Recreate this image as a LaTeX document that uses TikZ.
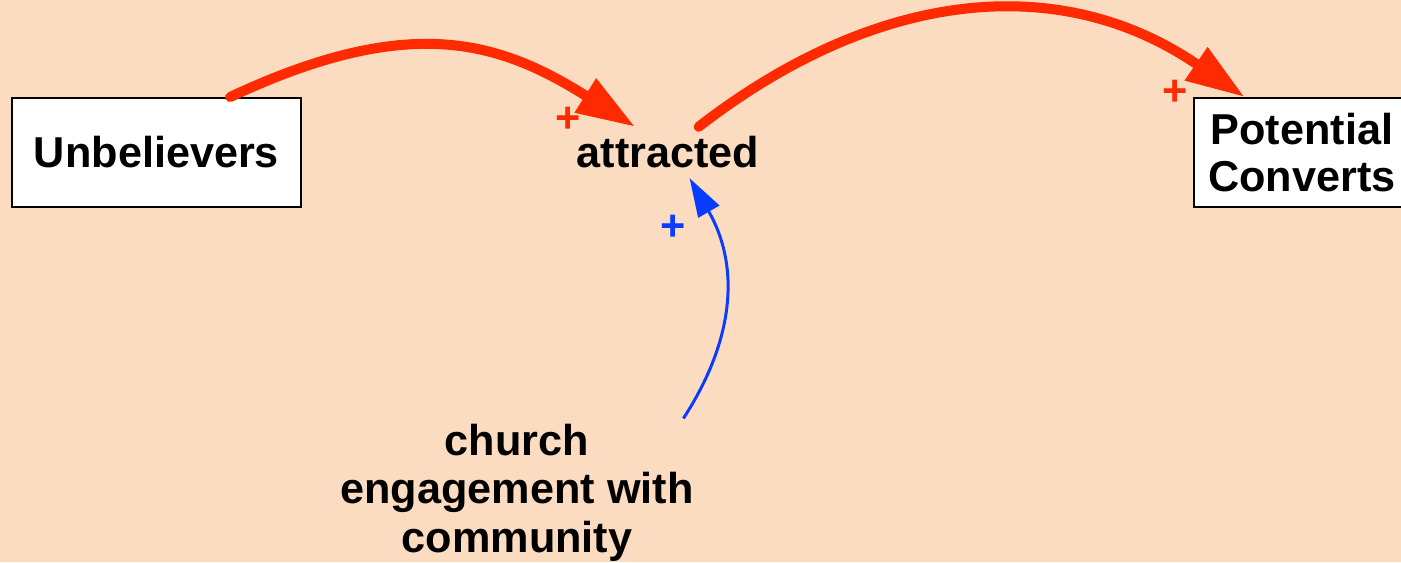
\documentclass[tikz,border=0pt]{standalone}
\usepackage{fontspec}
\setmainfont{Liberation Sans}
\usetikzlibrary{arrows.meta}
\definecolor{paper}{HTML}{FBDCC0}
\definecolor{linkred}{HTML}{FF2A00}
\definecolor{linkblue}{HTML}{0A3CFF}
\begin{document}
\begin{tikzpicture}[x=0.02cm,y=-0.02cm,
		every node/.style={font=\fontsize{24.6}{27.5}\selectfont\bfseries},
		stock/.style={draw=black,line width=1.1pt,fill=white,minimum height=2.18cm},
		redlink/.style={draw=linkred,line width=5.7pt,line cap=round,-{Triangle[length=33.5pt,width=21.5pt]}},
		bluelink/.style={draw=linkblue,line width=1.7pt,-{Triangle[length=22pt,width=13.6pt]}},
		sign/.style={inner sep=0pt}]
			\fill[paper] (0,0) rectangle (1401,562);
			\clip (0,0) rectangle (1401,562);
			\node[stock,minimum width=5.78cm] (unb) at (156.5,152.5) {Unbelievers};
			\node[stock,minimum width=4.32cm,align=center] (pot) at (1302,152.5) {Potential\\[-1pt]Converts};
			\node[inner sep=5.4pt] (attr) at (668,152.5) {attracted};
			\node[inner sep=3pt,align=center] (church) at (517,492.5) {church\\engagement with\\community};
			\draw[redlink] (unb.37) .. controls +(181,-85) and +(-135,-85) .. (attr.142);
			\draw[redlink] (attr.40) .. controls +(177,-137) and +(-185,-127) .. (pot.136);
			\draw[bluelink] (church.24) .. controls +(53.5,-82.4) and +(49,85) .. (attr.-50);
			\node[sign,text=linkred] (plusa) at (568,120) {+};
			\node[sign,text=linkred] (plusb) at (1175,93) {+};
			\node[sign,text=linkblue] (plusc) at (673,228) {+};
		\end{tikzpicture}
\end{document}
